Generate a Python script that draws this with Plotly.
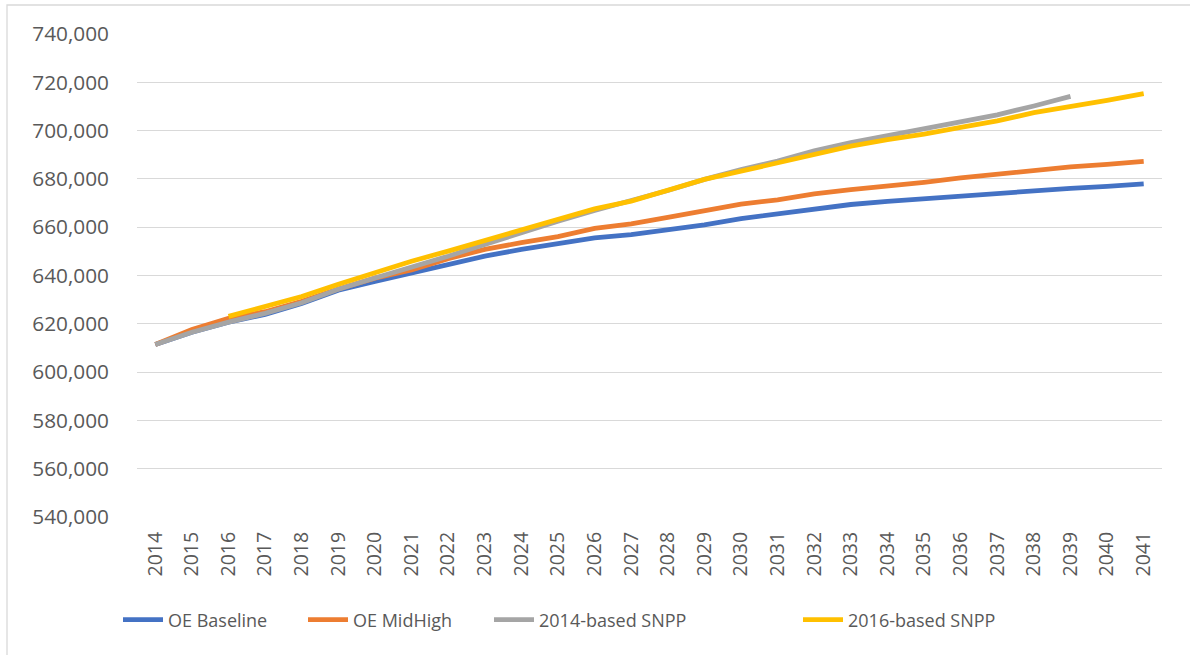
import plotly.graph_objects as go

years = [str(y) for y in range(2014, 2042)]

oe_baseline = [611400, 616500, 620700, 623900, 628400, 633900, 637600, 641100,
               645000, 648000, 650800, 653100, 655600, 656900, 658900, 661000,
               663600, 665500, 667600, 669400, 670700, 671800, 672700, 673700,
               675300, 676100, 676900, 677900]
oe_midhigh = [611400, 617600, 622300, 625000, 629300, 634400, 638900, 642300,
              647000, 650800, 653600, 656100, 659500, 661400, 664100, 667000,
              669600, 671300, 673800, 675600, 677000, 678600, 680400, 682000,
              683800, 685000, 686000, 687300]
snpp_2014 = [611400, 616500, 620700, 624300, 628700, 634300, 639000, 643300,
             648000, 652900, 657800, 662500, 666900, 670800, 675200, 679800,
             683900, 687400, 691600, 695000, 698000, 700800, 703500, 706500,
             710200, 714200]
snpp_2016 = [None, None, 623100, 627400, 631300, 636400, 641200, 645900,
             650100, 654500, 659000, 663200, 667600, 670800, 675200, 679800,
             683200, 686600, 690300, 693600, 696300, 698500, 701300, 704000,
             707400, 709800, 712500, 715300]

series = [
    ("OE Baseline", oe_baseline, "#4472C4"),
    ("OE MidHigh", oe_midhigh, "#ED7D31"),
    ("2014-based SNPP", snpp_2014, "#A5A5A5"),
    ("2016-based SNPP", snpp_2016, "#FFC000"),
]

y_ticks = list(range(540000, 740001, 20000))

W, H = 1190, 655
L, R, T, B = 137, 28, 34, 138
pw, ph = W - L - R, H - T - B


def px_x(v):
    return (v - L) / pw


def px_y(v):
    return (H - B - v) / ph


txt = "#595959"
font = "Open Sans, Noto Sans, DejaVu Sans, sans-serif"

# one legend box per series so each entry sits at its own spot along the bottom
legend_left = [118, 303, 489, 798]
legend_ids = ["legend", "legend2", "legend3", "legend4"]

fig = go.Figure()
for (name, vals, color), lid in zip(series, legend_ids):
    fig.add_trace(go.Scatter(
        x=years[:len(vals)], y=vals, name=name, mode="lines",
        line=dict(color=color, width=4.8),
        connectgaps=False, legend=lid,
    ))

legend_layout = {}
for lid, left in zip(legend_ids, legend_left):
    legend_layout[lid] = dict(
        orientation="h", x=px_x(left), xanchor="left",
        y=px_y(620), yanchor="middle",
        font=dict(size=18, color=txt, family=font),
        itemwidth=40, bgcolor="rgba(0,0,0,0)",
    )

fig.update_layout(
    width=W, height=H,
    margin=dict(l=L, r=R, t=T, b=B),
    paper_bgcolor="white", plot_bgcolor="white",
    font=dict(family=font, color=txt, size=20),
    showlegend=True,
    xaxis=dict(
        type="category", range=[-0.5, len(years) - 0.5],
        showgrid=False, showline=False, zeroline=False,
        ticks="", tickangle=-90, tickfont=dict(size=19.5, color=txt),
        ticklabelstandoff=10,
    ),
    yaxis=dict(
        range=[540000, 740000], tickvals=y_ticks,
        tickformat=",d", showgrid=True, gridcolor="#D9D9D9", gridwidth=1.3,
        zeroline=False, showline=False, ticks="",
        tickfont=dict(size=20.8, color=txt), ticklabelstandoff=27,
    ),
    shapes=[dict(
        type="rect", xref="paper", yref="paper",
        x0=px_x(7), x1=px_x(1200), y0=px_y(5), y1=px_y(670),
        line=dict(color="#D9D9D9", width=1.3), fillcolor="rgba(0,0,0,0)",
        layer="below",
    )],
    **legend_layout,
)

fig.write_html("out.html")
